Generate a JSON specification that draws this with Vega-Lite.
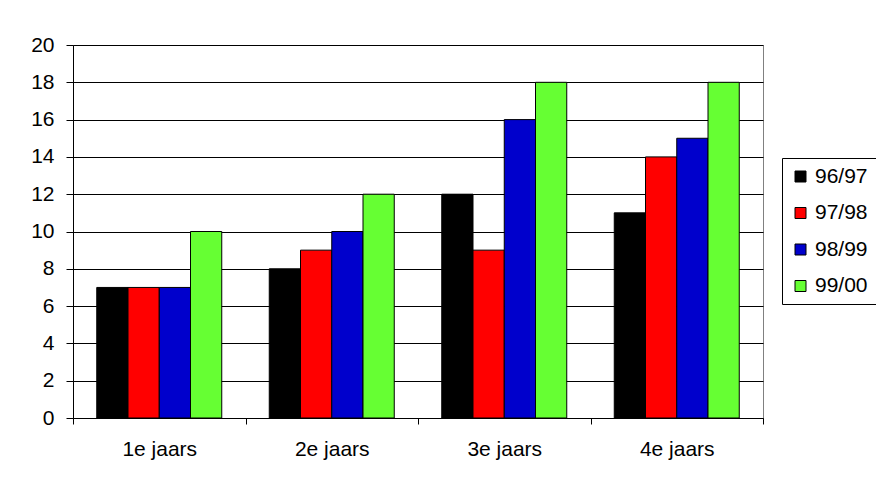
{
  "$schema": "https://vega.github.io/schema/vega-lite/v6.json",
  "autosize": {"type": "none"},
  "width": 690,
  "height": 373,
  "padding": {"left": 73, "top": 45, "right": 113, "bottom": 67},
  "background": "white",
  "data": {
    "values": [
      {"group": "1e jaars", "year": "96/97", "value": 7},
      {"group": "1e jaars", "year": "97/98", "value": 7},
      {"group": "1e jaars", "year": "98/99", "value": 7},
      {"group": "1e jaars", "year": "99/00", "value": 10},
      {"group": "2e jaars", "year": "96/97", "value": 8},
      {"group": "2e jaars", "year": "97/98", "value": 9},
      {"group": "2e jaars", "year": "98/99", "value": 10},
      {"group": "2e jaars", "year": "99/00", "value": 12},
      {"group": "3e jaars", "year": "96/97", "value": 12},
      {"group": "3e jaars", "year": "97/98", "value": 9},
      {"group": "3e jaars", "year": "98/99", "value": 16},
      {"group": "3e jaars", "year": "99/00", "value": 18},
      {"group": "4e jaars", "year": "96/97", "value": 11},
      {"group": "4e jaars", "year": "97/98", "value": 14},
      {"group": "4e jaars", "year": "98/99", "value": 15},
      {"group": "4e jaars", "year": "99/00", "value": 18}
    ]
  },
  "mark": {"type": "bar", "stroke": "#000000", "strokeWidth": 1},
  "encoding": {
    "x": {
      "field": "group",
      "type": "nominal",
      "title": null,
      "scale": {"paddingInner": 0, "paddingOuter": 0},
      "axis": {
        "labelAngle": 0,
        "labelFont": "Liberation Sans",
        "labelFontSize": 21,
        "labelColor": "#000000",
        "labelPadding": 14,
        "tickBand": "extent",
        "tickSize": 6,
        "tickColor": "#000000",
        "domainColor": "#000000",
        "grid": false
      }
    },
    "xOffset": {"field": "year", "type": "nominal", "scale": {"paddingInner": 0, "paddingOuter": 0.76}},
    "y": {
      "field": "value",
      "type": "quantitative",
      "title": null,
      "scale": {"domain": [0, 20], "nice": false},
      "axis": {
        "values": [0, 2, 4, 6, 8, 10, 12, 14, 16, 18, 20],
        "labelFont": "Liberation Sans",
        "labelFontSize": 21,
        "labelColor": "#000000",
        "labelPadding": 12,
        "tickSize": 7,
        "tickColor": "#000000",
        "domainColor": "#000000",
        "grid": true,
        "gridColor": "#000000",
        "gridOpacity": 1
      }
    },
    "color": {
      "field": "year",
      "type": "nominal",
      "title": null,
      "scale": {
        "domain": ["96/97", "97/98", "98/99", "99/00"],
        "range": ["#000000", "#FF0000", "#0000CC", "#66FF33"]
      },
      "legend": {
        "orient": "none",
        "legendX": 709,
        "legendY": 113,
        "symbolType": "square",
        "symbolSize": 121,
        "symbolStrokeColor": "#000000",
        "symbolStrokeWidth": 1,
        "symbolOpacity": 1,
        "labelFont": "Liberation Sans",
        "labelFontSize": 21,
        "labelColor": "#000000",
        "labelOffset": 4,
        "rowPadding": 14.5,
        "padding": 8,
        "strokeColor": "#000000",
        "fillColor": "#ffffff"
      }
    }
  },
  "config": {
    "view": {"stroke": "#808080", "strokeWidth": 1},
    "axis": {"domainWidth": 1, "tickWidth": 1, "gridWidth": 1}
  }
}
